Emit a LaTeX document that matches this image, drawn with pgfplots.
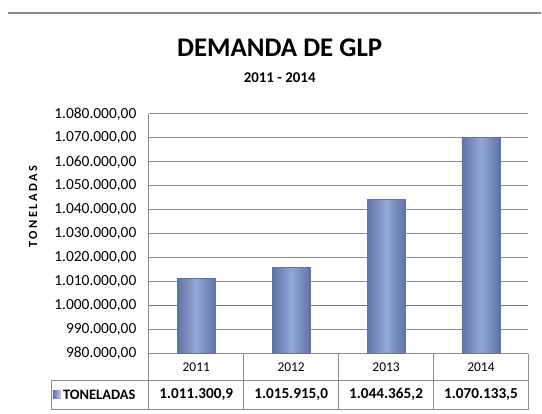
\documentclass[border=0pt]{standalone}
\usepackage{pgfplots}
\pgfplotsset{compat=1.18}
\usepackage{fontspec}
\setmainfont{Carlito}
\definecolor{gridc}{RGB}{140,140,140}
\definecolor{bardark}{RGB}{95,115,165}
\definecolor{barmid}{RGB}{148,168,214}
\definecolor{barlight}{RGB}{185,202,238}
\pgfplotsset{mybar/.style={ybar, bar shift=0pt, bar width=38bp, draw=bardark, line width=0.3bp,
    left color=bardark, right color=bardark, middle color=barmid, mark=none}}
\begin{document}
\begin{tikzpicture}[x=1bp,y=1bp]
\path (0,0) rectangle (542,414);
\draw[gridc, line width=1.2bp] (8,401) -- (542,401);
\node[font=\fontsize{27}{30}\selectfont\bfseries] at (280,366) {DEMANDA DE GLP};
\node[font=\fontsize{15}{17}\selectfont\bfseries] at (280,336) {2011 - 2014};
\node[font=\fontsize{12.5}{14}\selectfont\bfseries\addfontfeature{LetterSpace=20}, rotate=90] at (33,207) {TONELADAS};
\begin{axis}[
  at={(149bp,60bp)}, anchor=south west,
  width=380bp, height=240bp, scale only axis,
  clip=false,
  xmin=-0.5, xmax=3.5, ymin=980000, ymax=1080000,
  ytick distance=10000, scaled y ticks=false,
  axis x line*=bottom, axis y line*=left,
  axis line style={gridc, line width=0.8bp, -},
  ymajorgrids, grid style={gridc, line width=0.8bp},
  major tick length=0pt,
  xtick={0,1,2,3}, xticklabels={2011,2012,2013,2014},
  xticklabel style={anchor=center, yshift=-14bp, font=\fontsize{13.5}{15}\selectfont},
  yticklabel={\fontsize{15.5}{17}\selectfont\pgfmathprintnumber[fixed, fixed zerofill, precision=2, use comma, 1000 sep={.}, assume math mode=true]{\tick}},
  yticklabel style={xshift=-9bp},
]
\draw[black!55, line width=1.3bp] (axis cs:-0.5,1000000) -- (axis cs:3.5,1000000);
\addplot[mybar] coordinates {(0,1011300.9)};
\addplot[mybar] coordinates {(1,1015915.0)};
\addplot[mybar] coordinates {(2,1044365.2)};
\addplot[mybar] coordinates {(3,1070133.5)};
\node[font=\fontsize{15.3}{18}\selectfont\bfseries, yshift=-41bp] at (axis cs:0,980000) {1.011.300,9};
\node[font=\fontsize{15.3}{18}\selectfont\bfseries, yshift=-41bp] at (axis cs:1,980000) {1.015.915,0};
\node[font=\fontsize{15.3}{18}\selectfont\bfseries, yshift=-41bp] at (axis cs:2,980000) {1.044.365,2};
\node[font=\fontsize{15.3}{18}\selectfont\bfseries, yshift=-41bp] at (axis cs:3,980000) {1.070.133,5};
\end{axis}
% data table grid
\draw[gridc, line width=0.8bp] (51,33) -- (529,33);
\draw[gridc, line width=0.8bp] (51,4) -- (529,4);
\draw[gridc, line width=0.8bp] (51,4) -- (51,33);
\foreach \x in {149,244,339,434,529} { \draw[gridc, line width=0.8bp] (\x,4) -- (\x,60); }
\shade[left color=bardark, right color=barlight] (53,15) rectangle (61,23);
\node[font=\fontsize{14.5}{17}\selectfont\bfseries, anchor=west, inner sep=0pt] at (63,19) {TONELADAS};
\end{tikzpicture}
\end{document}
